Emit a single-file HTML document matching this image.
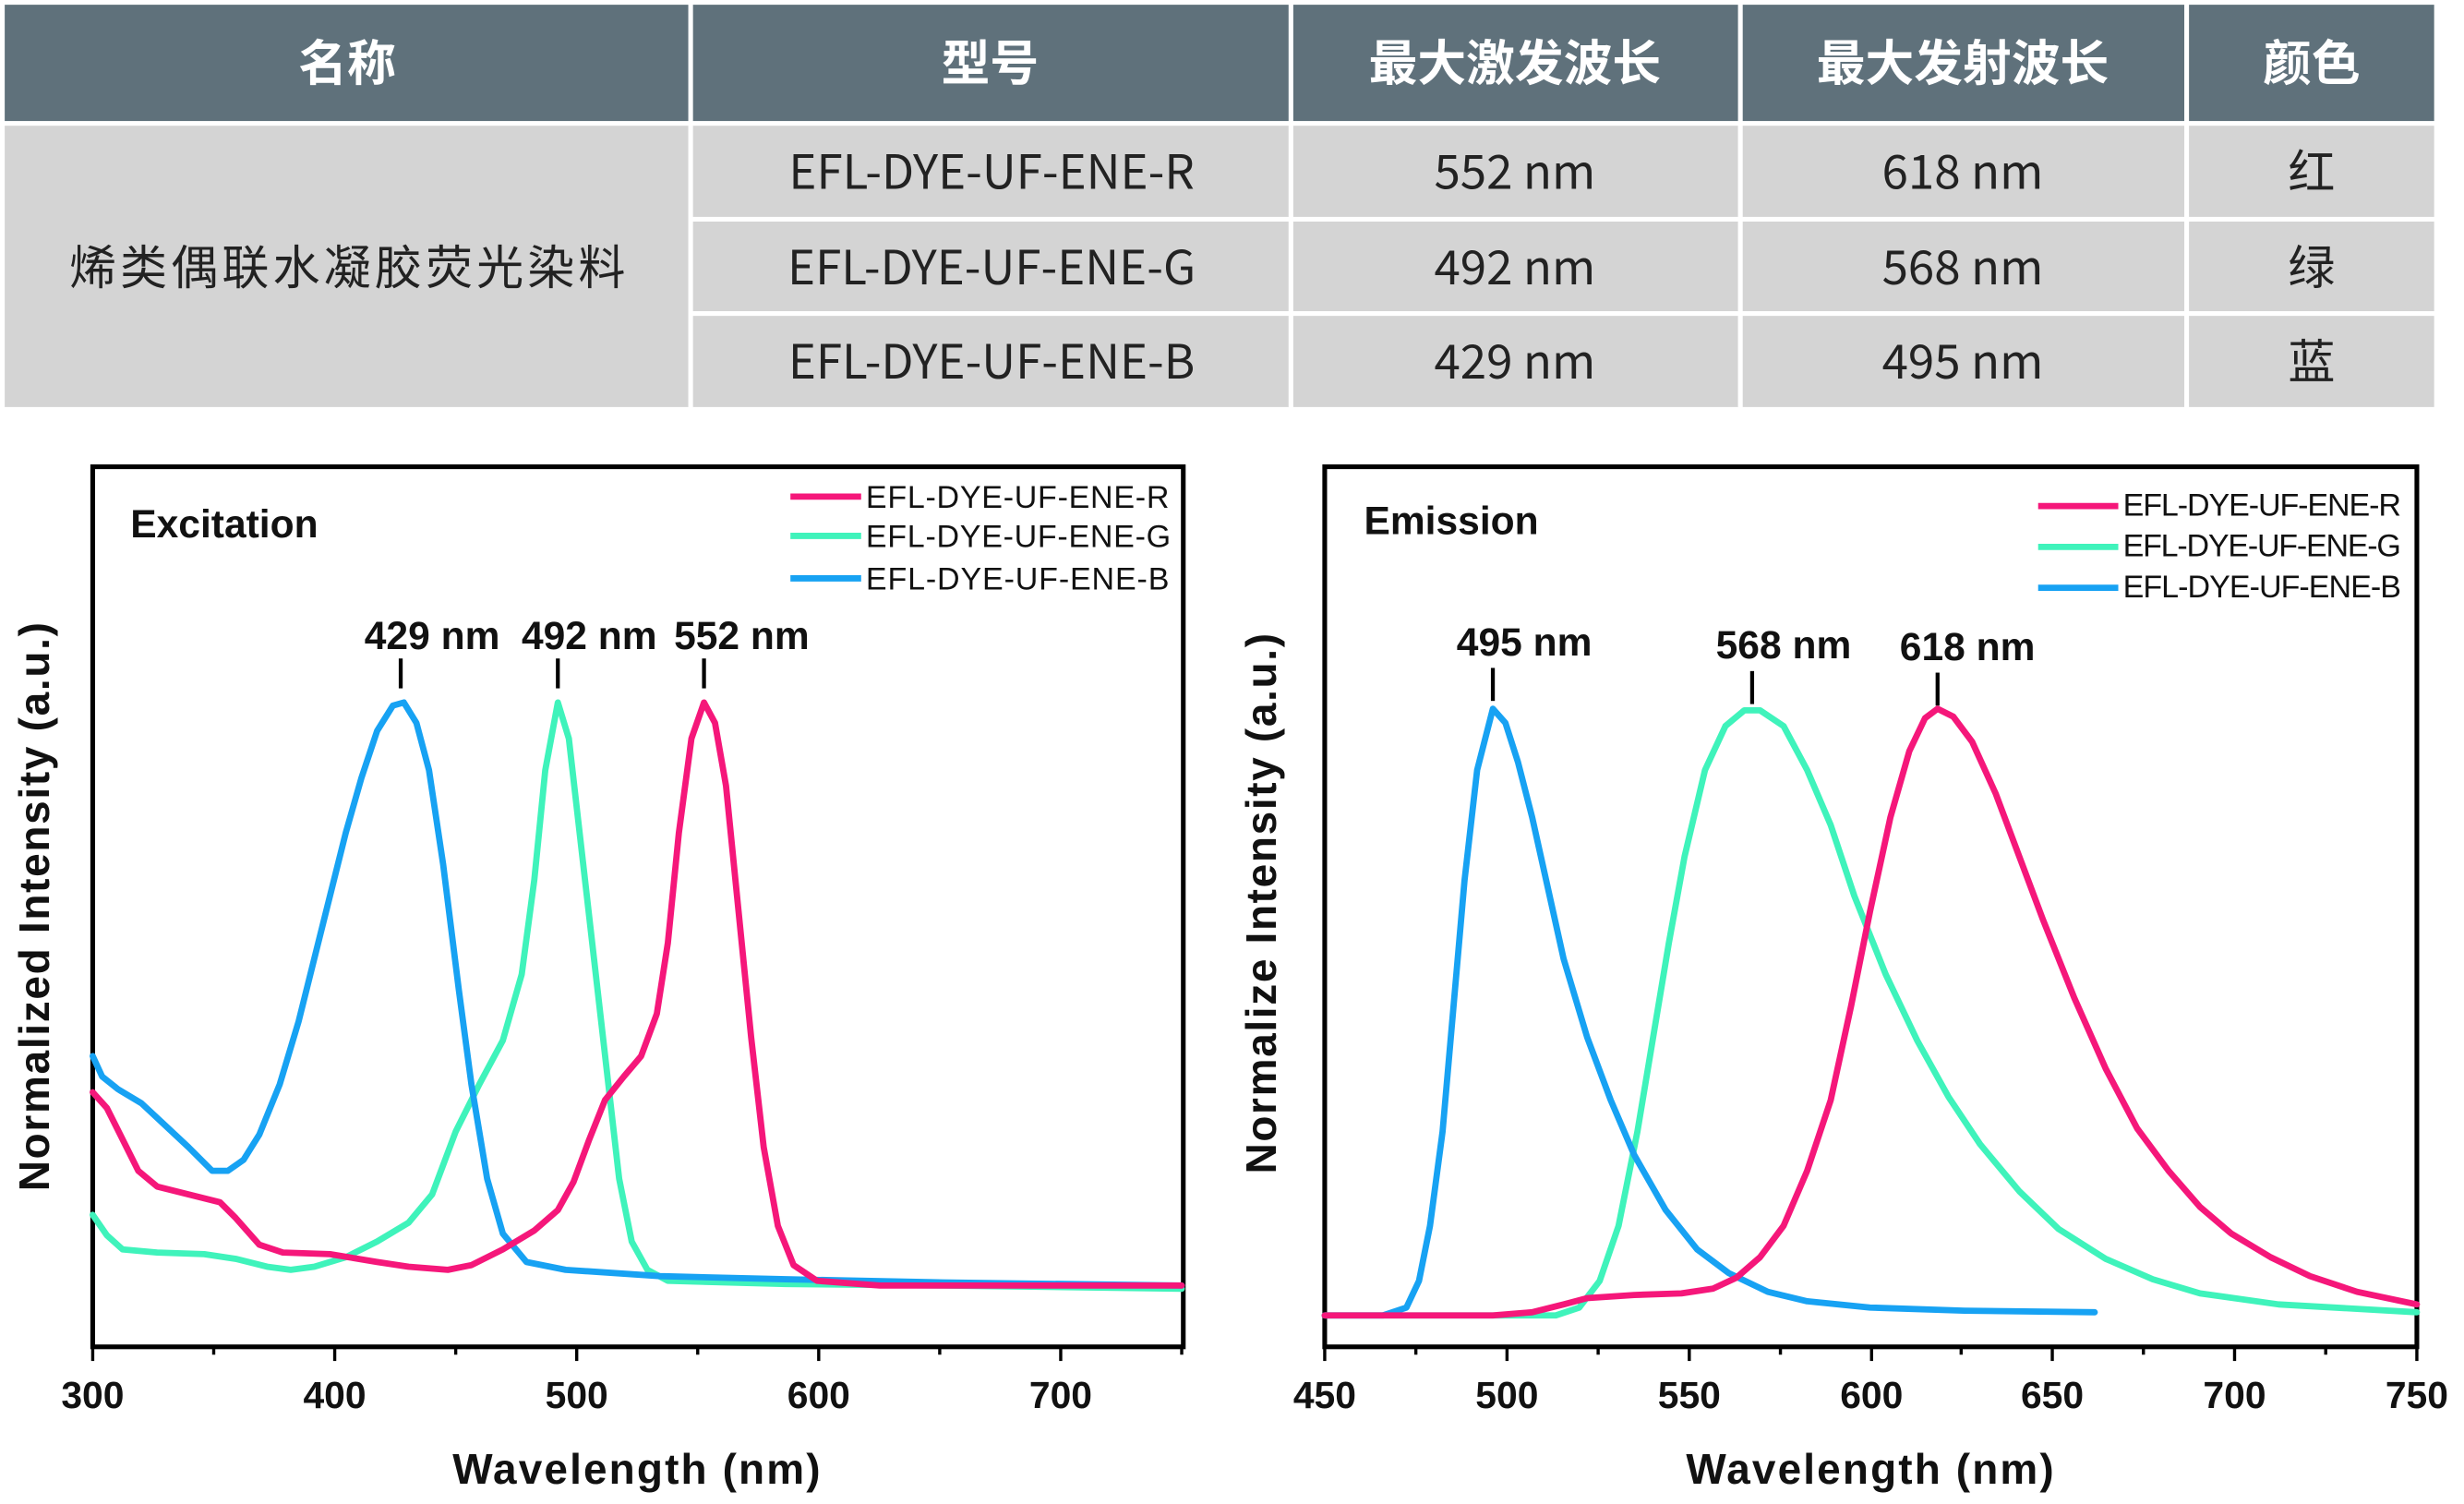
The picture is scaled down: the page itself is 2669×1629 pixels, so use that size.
<!DOCTYPE html>
<html><head><meta charset="utf-8">
<style>
html,body{margin:0;padding:0;background:#fff;}
svg{display:block;}
.hd{font-family:"Liberation Sans","Noto Sans CJK SC",sans-serif;font-weight:bold;font-size:31px;fill:#fff;}
.bd{font-family:"Noto Sans CJK SC","Liberation Sans",sans-serif;font-size:30px;fill:#222;}
.ax{font-family:"Liberation Sans",sans-serif;font-weight:bold;fill:#111;}
.lg{font-family:"Liberation Sans",sans-serif;font-size:20px;fill:#111;}
.c{fill:none;stroke-width:4;stroke-linejoin:round;stroke-linecap:round;}
</style></head><body>
<svg width="2669" height="1629" viewBox="0 0 1568 957" xmlns="http://www.w3.org/2000/svg">
<rect width="1568" height="957" fill="#fff"/>
<g fill="#5f717b">
<rect x="3" y="3" width="435" height="74"/><rect x="441" y="3" width="379" height="74"/>
<rect x="823" y="3" width="283" height="74"/><rect x="1109" y="3" width="281" height="74"/>
<rect x="1393" y="3" width="156" height="74"/>
</g>
<g fill="#d4d4d4">
<rect x="3" y="80" width="435" height="179"/>
<rect x="441" y="80" width="379" height="58"/><rect x="823" y="80" width="283" height="58"/><rect x="1109" y="80" width="281" height="58"/><rect x="1393" y="80" width="156" height="58"/>
<rect x="441" y="141" width="379" height="57"/><rect x="823" y="141" width="283" height="57"/><rect x="1109" y="141" width="281" height="57"/><rect x="1393" y="141" width="156" height="57"/>
<rect x="441" y="201" width="379" height="58"/><rect x="823" y="201" width="283" height="58"/><rect x="1109" y="201" width="281" height="58"/><rect x="1393" y="201" width="156" height="58"/>
</g>
<g class="hd" text-anchor="middle">
<text x="221" y="51">名称</text><text x="630" y="51">型号</text><text x="964" y="51">最大激发波长</text><text x="1249" y="51">最大发射波长</text><text x="1471" y="51">颜色</text>
</g>
<g class="bd" text-anchor="middle">
<text x="221" y="181" textLength="354">烯类偶联水凝胶荧光染料</text>
<text x="631" y="120">EFL-DYE-UF-ENE-R</text><text x="964" y="120">552 nm</text><text x="1249" y="120">618 nm</text><text x="1471" y="120">红</text>
<text x="631" y="181">EFL-DYE-UF-ENE-G</text><text x="964" y="181">492 nm</text><text x="1249" y="181">568 nm</text><text x="1471" y="181">绿</text>
<text x="631" y="241">EFL-DYE-UF-ENE-B</text><text x="964" y="241">429 nm</text><text x="1249" y="241">495 nm</text><text x="1471" y="241">蓝</text>
</g>

<rect x="59" y="297" width="694" height="560" fill="none" stroke="#000" stroke-width="3"/>
<g stroke="#000" stroke-width="2">
<line x1="59" y1="857" x2="59" y2="866"/><line x1="136" y1="857" x2="136" y2="862"/><line x1="213" y1="857" x2="213" y2="866"/><line x1="290" y1="857" x2="290" y2="862"/><line x1="367" y1="857" x2="367" y2="866"/><line x1="444" y1="857" x2="444" y2="862"/><line x1="521" y1="857" x2="521" y2="866"/><line x1="598" y1="857" x2="598" y2="862"/><line x1="675" y1="857" x2="675" y2="866"/><line x1="752" y1="857" x2="752" y2="862"/>
</g>
<g class="ax" font-size="24" text-anchor="middle">
<text x="59" y="896">300</text><text x="213" y="896">400</text><text x="367" y="896">500</text><text x="521" y="896">600</text><text x="675" y="896">700</text>
</g>
<text class="ax" font-size="27" x="405" y="944" text-anchor="middle" textLength="234">Wavelength (nm)</text>
<text class="ax" font-size="27" transform="translate(31,577) rotate(-90)" text-anchor="middle" textLength="362">Normalized Intensity (a.u.)</text>
<text class="ax" font-size="25" x="83" y="342">Excitation</text>
<line x1="503" y1="316" x2="548" y2="316" stroke="#f5177a" stroke-width="4"/>
<line x1="503" y1="341" x2="548" y2="341" stroke="#3ff3bb" stroke-width="4"/>
<line x1="503" y1="368" x2="548" y2="368" stroke="#17a2f3" stroke-width="4"/>
<text class="lg" x="551" y="323" textLength="193">EFL-DYE-UF-ENE-R</text>
<text class="lg" x="551" y="348" textLength="194">EFL-DYE-UF-ENE-G</text>
<text class="lg" x="551" y="375" textLength="193">EFL-DYE-UF-ENE-B</text>
<g class="ax" font-size="25" text-anchor="middle">
<text x="275" y="413">429 nm</text><text x="375" y="413">492 nm</text><text x="472" y="413">552 nm</text>
</g>
<g stroke="#000" stroke-width="2.5">
<line x1="255" y1="419" x2="255" y2="438"/><line x1="355" y1="419" x2="355" y2="438"/><line x1="448" y1="419" x2="448" y2="438"/>
</g>
<polyline class="c" stroke="#3ff3bb" points="59,773 68,786 78,795 100,797 130,798 150,801 170,806 185,808 200,806 220,800 240,790 260,778 275,760 290,720 305,690 320,662 332,620 340,560 347,490 355,447 362,470 370,540 378,610 386,680 394,750 402,790 412,808 425,815 500,817 600,818 752,820"/>
<polyline class="c" stroke="#17a2f3" points="59,672 65,685 75,693 90,702 105,716 120,730 135,745 145,745 155,738 165,722 178,690 190,650 200,610 210,570 220,530 230,495 240,465 250,449 257,447 265,460 273,490 282,550 292,630 300,690 310,750 320,785 335,803 360,808 420,812 500,814 600,816 752,818"/>
<polyline class="c" stroke="#f5177a" points="59,695 68,705 78,725 88,745 100,755 120,760 140,765 150,775 165,792 180,797 210,798 240,803 260,806 285,808 300,805 320,795 340,783 355,770 365,752 375,725 385,700 397,685 408,672 418,645 425,600 432,530 440,470 448,447 455,460 462,500 470,580 478,660 486,730 495,780 505,805 520,815 560,818 752,818"/>

<rect x="843" y="297" width="695" height="560" fill="none" stroke="#000" stroke-width="3"/>
<g stroke="#000" stroke-width="2">
<line x1="843" y1="857" x2="843" y2="866"/><line x1="901" y1="857" x2="901" y2="862"/><line x1="959" y1="857" x2="959" y2="866"/><line x1="1017" y1="857" x2="1017" y2="862"/><line x1="1075" y1="857" x2="1075" y2="866"/><line x1="1133" y1="857" x2="1133" y2="862"/><line x1="1191" y1="857" x2="1191" y2="866"/><line x1="1248" y1="857" x2="1248" y2="862"/><line x1="1306" y1="857" x2="1306" y2="866"/><line x1="1364" y1="857" x2="1364" y2="862"/><line x1="1422" y1="857" x2="1422" y2="866"/><line x1="1480" y1="857" x2="1480" y2="862"/><line x1="1538" y1="857" x2="1538" y2="866"/>
</g>
<g class="ax" font-size="24" text-anchor="middle">
<text x="843" y="896">450</text><text x="959" y="896">500</text><text x="1075" y="896">550</text><text x="1191" y="896">600</text><text x="1306" y="896">650</text><text x="1422" y="896">700</text><text x="1538" y="896">750</text>
</g>
<text class="ax" font-size="27" x="1190" y="944" text-anchor="middle" textLength="234">Wavelength (nm)</text>
<text class="ax" font-size="27" transform="translate(812,575) rotate(-90)" text-anchor="middle" textLength="344">Normalize Intensity (a.u.)</text>
<text class="ax" font-size="25" x="868" y="340">Emission</text>
<line x1="1297" y1="322" x2="1348" y2="322" stroke="#f5177a" stroke-width="4"/>
<line x1="1297" y1="348" x2="1348" y2="348" stroke="#3ff3bb" stroke-width="4"/>
<line x1="1297" y1="374" x2="1348" y2="374" stroke="#17a2f3" stroke-width="4"/>
<g class="lg" font-size="18"><text x="1351" y="328" textLength="177">EFL-DYE-UF-ENE-R</text><text x="1351" y="354" textLength="177">EFL-DYE-UF-ENE-G</text><text x="1351" y="380" textLength="177">EFL-DYE-UF-ENE-B</text></g>
<g class="ax" font-size="25" text-anchor="middle">
<text x="970" y="417">495 nm</text><text x="1135" y="419">568 nm</text><text x="1252" y="420">618 nm</text>
</g>
<g stroke="#000" stroke-width="2.5">
<line x1="950" y1="425" x2="950" y2="446"/><line x1="1115" y1="427" x2="1115" y2="448"/><line x1="1233" y1="428" x2="1233" y2="449"/>
</g>
<polyline class="c" stroke="#3ff3bb" points="843,837 990,837 1005,832 1018,815 1030,780 1042,720 1052,660 1062,600 1072,545 1085,490 1098,462 1110,452 1120,452 1135,462 1150,490 1165,525 1180,570 1200,620 1220,662 1240,698 1260,728 1285,758 1310,782 1340,801 1370,814 1400,823 1450,830 1538,835"/>
<polyline class="c" stroke="#17a2f3" points="843,837 880,837 895,832 903,815 910,780 918,720 925,640 932,560 940,490 950,451 958,460 966,485 975,520 985,565 995,610 1010,660 1025,700 1040,735 1060,770 1080,795 1100,810 1125,822 1150,828 1190,832 1250,834 1333,835"/>
<polyline class="c" stroke="#f5177a" points="843,837 950,837 975,835 995,830 1010,826 1040,824 1070,823 1090,820 1105,813 1120,800 1135,780 1150,745 1165,700 1178,640 1190,580 1203,520 1215,478 1225,457 1233,451 1243,456 1255,472 1270,505 1285,545 1300,585 1320,635 1340,680 1360,718 1380,745 1400,768 1420,785 1445,800 1470,812 1500,822 1538,830"/>
</svg>
</body></html>
